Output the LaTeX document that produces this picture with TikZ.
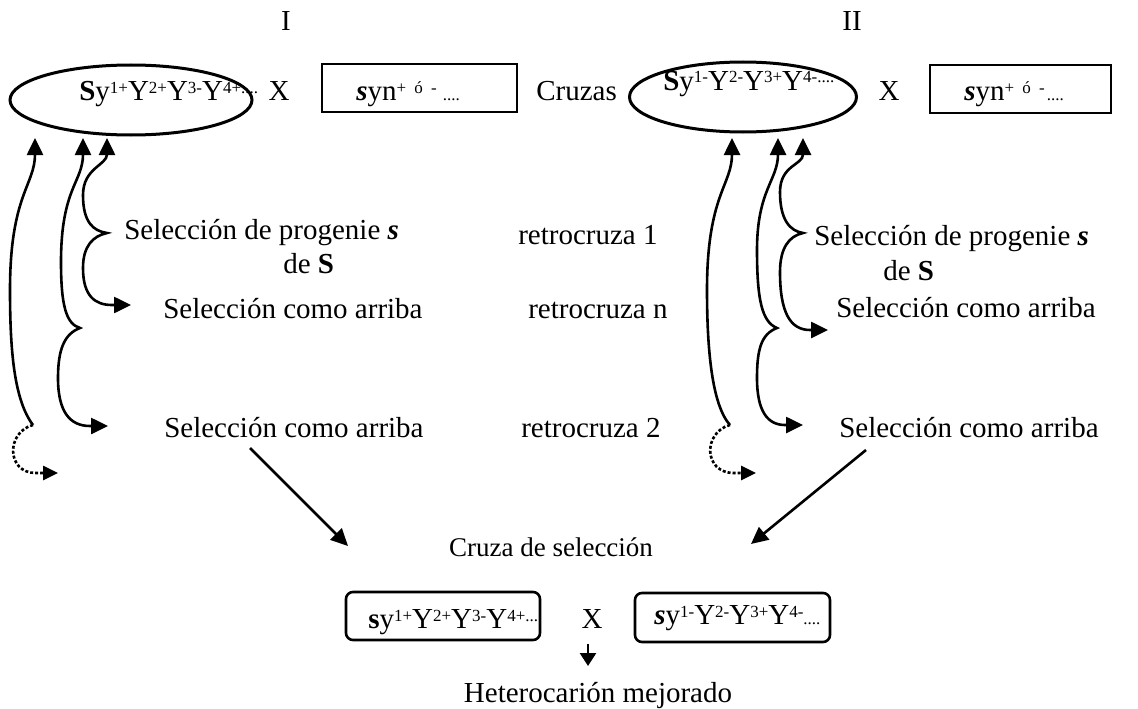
\documentclass[tikz,border=0pt]{standalone}
\usepackage{fontspec}
\setmainfont{Liberation Serif}
\usetikzlibrary{shapes.geometric,arrows.meta}
\newcommand{\spx}[1]{\raisebox{7pt}{\fontsize{17}{17}\selectfont #1}}
\newcommand{\sbx}[1]{{\fontsize{17}{17}\selectfont #1}}
\newcommand{\pom}{+\hspace{4pt} ó\hspace{4pt} -}
\begin{document}
\begin{tikzpicture}[x=1pt,y=-1pt,
  font=\fontsize{29}{34}\selectfont,
  line width=2.6pt,
  >={Triangle[width=16pt,length=17pt]},
  txt/.style={anchor=base west,inner sep=0pt},
  ctxt/.style={anchor=base,inner sep=0pt},
  boxn/.style={draw,inner sep=0pt,line width=2.6pt},
  dotted curve/.style={dash pattern=on 3pt off 2pt},
  smalltip/.style={-{Triangle[width=14pt,length=15pt]}}]
\useasboundingbox (0,0) rectangle (1138,709);

% headers
\node[ctxt] (I) at (286,31) {I};
\node[ctxt] (II) at (852,31) {II};

% top row
\node[boxn,ellipse,line width=3pt,minimum width=242pt,minimum height=70pt] (EL) at (131,100) {};
\node[txt] (ELt) at (78,100) {\textbf{S}y\spx{1+}Y\spx{2+}Y\spx{3-}Y\spx{4+....}};
\node[ctxt] (XL) at (279,100) {X};
\node[boxn,minimum width=195pt,minimum height=48pt] (RL) at (419.5,88) {};
\node[txt] (RLt) at (355,100) {\textbf{\textit{s}}yn\spx{\pom}\kern6pt\sbx{....}};
\node[txt] (Cz) at (535,100) {Cruzas};
\node[boxn,ellipse,line width=3pt,minimum width=227pt,minimum height=70pt] (ER) at (743,97) {};
\node[txt] (ERt) at (662,90) {\textbf{S}y\spx{1-}Y\spx{2-}Y\spx{3+}Y\spx{4-....}};
\node[ctxt] (XR) at (889,100) {X};
\node[boxn,minimum width=181pt,minimum height=48pt] (RR) at (1020.5,89) {};
\node[txt] (RRt) at (963,100) {\textbf{\textit{s}}yn\spx{\pom}\kern2pt\sbx{....}};

% left texts
\node[txt] (L1) at (123,239) {Selección de progenie \textbf{\textit{s}}};
\node[txt] (L1b) at (282,273) {de \textbf{S}};
\node[txt] (L2) at (162,318) {Selección como arriba};
\node[txt] (L3) at (163,437) {Selección como arriba};
% middle texts
\node[txt] (M1) at (517,244) {retrocruza 1};
\node[txt] (M2) at (527,318) {retrocruza n};
\node[txt] (M3) at (520,437) {retrocruza 2};
% right texts
\node[txt] (R1) at (813,245) {Selección de progenie \textbf{\textit{s}}};
\node[txt] (R1b) at (882,280) {de \textbf{S}};
\node[txt] (R2) at (835,317) {Selección como arriba};
\node[txt] (R3) at (838,437) {Selección como arriba};

% left curves
\coordinate (LAt) at (35,138);
\coordinate (LAb) at (33,425);
\coordinate (LAd) at (58,473);
\coordinate (LBt) at (83,138);
\coordinate (LBm) at (80,328);
\coordinate (LBb) at (108,426);
\coordinate (LCt) at (107,138);
\coordinate (LCm) at (107,233);
\coordinate (LCb) at (131,305);
\draw[->] (LAb) .. controls (14,400) and (10,350) .. (10,290) .. controls (10,195) and (35,185) .. (LAt);
\draw[dotted curve,smalltip] (LAb) .. controls (6,432) and (6,473) .. (36,473) -- (LAd);
\draw[<->] (LBt) .. controls (83,182) and (61,188) .. (61,262) .. controls (61,305) and (66,324) .. (LBm)
  .. controls (64,334) and (58,350) .. (58,378) .. controls (58,412) and (70,426) .. (90,426) -- (LBb);
\draw[<->] (LCt) .. controls (107,165) and (83,168) .. (83,195) .. controls (83,222) and (93,231) .. (LCm)
  .. controls (93,236) and (83,246) .. (83,268) .. controls (83,296) and (95,305) .. (112,305) -- (LCb);

% right curves
\coordinate (RAt) at (732,138);
\coordinate (RAb) at (730,425);
\coordinate (RAd) at (756,473);
\coordinate (RBt) at (778,138);
\coordinate (RBm) at (777,328);
\coordinate (RBb) at (803,425);
\coordinate (RCt) at (803,138);
\coordinate (RCm) at (803,233);
\coordinate (RCb) at (828,330);
\draw[->] (RAb) .. controls (712,405) and (707,350) .. (707,290) .. controls (707,195) and (732,185) .. (RAt);
\draw[dotted curve,smalltip] (RAb) .. controls (703,432) and (703,473) .. (734,473) -- (RAd);
\draw[<->] (RBt) .. controls (778,180) and (757,190) .. (757,250) .. controls (757,300) and (762,322) .. (RBm)
  .. controls (761,334) and (757,350) .. (757,378) .. controls (757,412) and (768,425) .. (785,425) -- (RBb);
\draw[<->] (RCt) .. controls (803,165) and (780,165) .. (780,192) .. controls (780,220) and (790,231) .. (RCm)
  .. controls (789,236) and (780,248) .. (780,272) .. controls (780,312) and (790,330) .. (810,330) -- (RCb);

% bottom
\coordinate (DLs) at (250,448);
\coordinate (DLe) at (348,546);
\coordinate (DRs) at (866,450);
\coordinate (DRe) at (751,544);
\draw[->] (DLs) -- (DLe);
\draw[->] (DRs) -- (DRe);
\node[ctxt,font=\fontsize{27}{32}\selectfont] (CS) at (551,556) {Cruza de selección};
\node[boxn,rounded corners=7pt,minimum width=194pt,minimum height=48pt] (BL) at (443,616) {};
\node[txt] (BLt) at (367,628) {\textbf{s}y\spx{1+}Y\spx{2+}Y\spx{3-}Y\spx{4+...}};
\node[ctxt] (XB) at (592,628) {X};
\node[boxn,rounded corners=7pt,minimum width=195pt,minimum height=49pt] (BR) at (732.5,617.5) {};
\node[txt] (BRt) at (653,624) {\textbf{\textit{s}}y\spx{1-}Y\spx{2-}Y\spx{3+}Y\spx{4-}\sbx{....}};
\coordinate (DA) at (588,644);
\coordinate (DB) at (588,666);
\draw[-{Triangle[width=16pt,length=13pt]}] (DA) -- (DB);
\node[ctxt] (HM) at (598,702) {Heterocarión mejorado};
\end{tikzpicture}
\end{document}
